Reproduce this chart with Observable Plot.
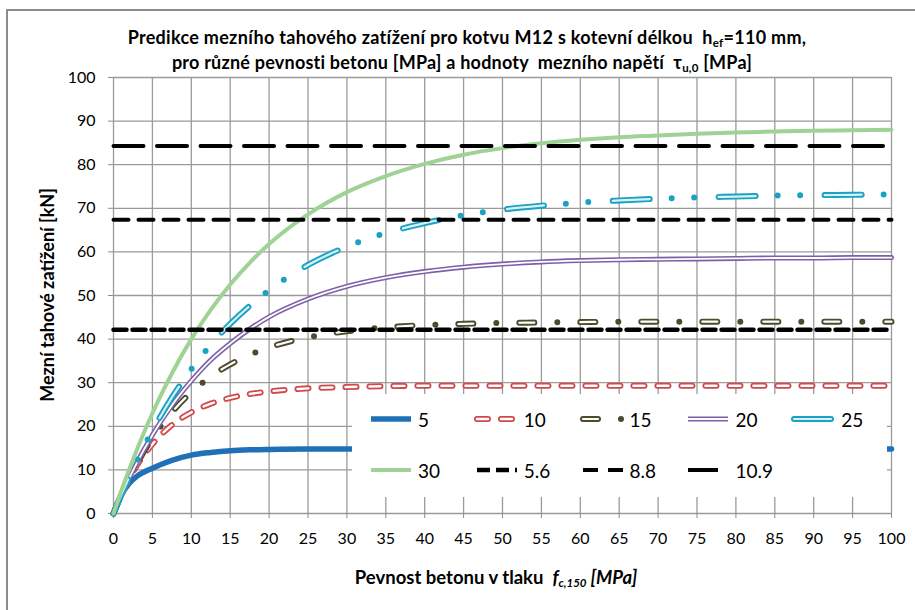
<!DOCTYPE html>
<html><head><meta charset="utf-8">
<script src="https://cdn.jsdelivr.net/npm/d3@7"></script>
<script src="https://cdn.jsdelivr.net/npm/@observablehq/plot@0.6"></script>
<style>
body{margin:0;background:#fff;font-family:Lato,"Open Sans",sans-serif;}
#wrap{position:relative;width:915px;height:610px;overflow:hidden;background:#fff;}
#frame{position:absolute;left:6px;top:9px;width:2000px;height:2000px;border-left:2px solid #8c8c8c;border-top:2px solid #8c8c8c;}
#chart{position:absolute;left:0;top:0;}
.t{position:absolute;white-space:nowrap;font-weight:bold;color:#000;font-size:18px;line-height:20px;}
.sub{font-size:11.5px;position:relative;top:3px;line-height:10px;}
#legend{position:absolute;left:352px;top:394px;width:535px;height:103px;background:#fff;}
.li{position:absolute;display:flex;align-items:center;height:22px;font-size:19px;color:#000;}
.li svg{margin-right:4px;}
</style></head><body>
<div id="wrap">
  <div id="frame"></div>
  <div id="chart"></div>
  <div class="t" style="left:467px;top:27px;transform:translateX(-50%);letter-spacing:0.3px;">Predikce mezního tahového zatížení pro kotvu M12 s kotevní délkou&nbsp; h<span class="sub">ef</span>=110 mm,</div>
  <div class="t" style="left:462px;top:52px;transform:translateX(-50%);letter-spacing:0.22px;">pro různé pevnosti betonu [MPa] a hodnoty&nbsp; mezního napětí&nbsp; τ<span class="sub">u,0</span> [MPa]</div>
  <div class="t" style="left:47px;top:295px;transform:translate(-50%,-50%) rotate(-90deg);font-size:18px;">Mezní tahové zatížení [kN]</div>
  <div class="t" style="left:496px;top:567px;transform:translateX(-50%);font-size:18.5px;">Pevnost betonu v tlaku&nbsp; <i>f</i><span class="sub"><i>c,150</i></span><i> [MPa]</i></div>
  <div id="legend"></div>
</div>
<script>
// ---- data ----
const fc = [0,1,2,3,5,7.5,10,12.5,15,17.5,20,25,30,35,40,45,50,55,60,65,70,75,80,85,90,95,100];
const n5  = [0,4.2,6.9,8.5,10.4,12.2,13.4,14.0,14.4,14.6,14.7,14.8,14.8,14.8,14.8,14.8,14.8,14.8,14.8,14.8,14.8,14.8,14.8,14.8,14.8,14.8,14.8];
const n10 = [0,4.3,7.9,11.0,15.9,20.3,23.2,25.2,26.5,27.4,28.0,28.7,29.0,29.2,29.3,29.3,29.3,29.3,29.3,29.3,29.3,29.3,29.3,29.3,29.3,29.3,29.3];
const n15 = [0,4.2,8.0,11.4,17.3,23.2,27.8,31.4,34.2,36.4,38.1,40.4,41.8,42.7,43.2,43.5,43.7,43.8,43.9,44.0,44.0,44.0,44.0,44.0,44.0,44.0,44.0];
const n20 = [0,4.1,8.0,11.6,18.0,24.8,30.4,35.2,39.0,42.3,45.1,49.2,52.1,54.1,55.5,56.5,57.2,57.7,58.0,58.2,58.3,58.4,58.5,58.6,58.6,58.7,58.7];
const n25 = [0,4.3,8.3,12.1,19.0,26.6,33.1,38.7,43.5,47.6,51.2,57.0,61.2,64.3,66.6,68.4,69.7,70.6,71.3,71.8,72.2,72.5,72.7,72.9,73.0,73.1,73.2];
const n30 = [0,5.2,10.0,14.6,23.0,32.1,40.0,46.7,52.5,57.5,61.8,68.6,73.7,77.4,80.2,82.3,83.8,84.9,85.7,86.3,86.7,87.1,87.4,87.6,87.8,87.9,88.0];
const tauLabels = ["5","10","15","20","25","30"];
const tauValues = [n5,n10,n15,n20,n25,n30];
const steelLabels = ["5.6","8.8","10.9"];
const steelN = [42.15,67.4,84.3];
const xTicks = [0,5,10,15,20,25,30,35,40,45,50,55,60,65,70,75,80,85,90,95,100];
const yTicks = [0,10,20,30,40,50,60,70,80,90,100];

// ---- styles ----
const styles = {
  "5":  [{stroke:"#1f70b6",strokeWidth:5.5}],
  "10": [{stroke:"#d2484c",strokeWidth:6,strokeDasharray:"11,13",strokeLinecap:"round"},
         {stroke:"#fff",strokeWidth:2.4,strokeDasharray:"11,13",strokeLinecap:"round"}],
  "15": [{stroke:"#4e4a2c",strokeWidth:6,strokeDasharray:"15,23,0,23",strokeLinecap:"round"},
         {stroke:"#fff",strokeWidth:2.2,strokeDasharray:"15,46",strokeLinecap:"round"}],
  "20": [{stroke:"#7d60a8",strokeWidth:5},{stroke:"#fff",strokeWidth:1.8}],
  "25": [{stroke:"#1aa2c2",strokeWidth:6,strokeDasharray:"37,22,0,22.5,0,24.5",strokeLinecap:"round"},
         {stroke:"#d8f1f7",strokeWidth:2.2,strokeDasharray:"37,69",strokeLinecap:"round"}],
  "30": [{stroke:"#9fd295",strokeWidth:4}],
  "5.6":[{stroke:"#000",strokeWidth:4.5,strokeDasharray:"13,6"}],
  "8.8":[{stroke:"#000",strokeWidth:4,strokeDasharray:"15,10"}],
  "10.9":[{stroke:"#000",strokeWidth:4,strokeDasharray:"30,13.5"}]
};

const marks = [
  Plot.gridX(xTicks,{stroke:"#9a9a9a",strokeOpacity:1,strokeWidth:1.3}),
  Plot.gridY(yTicks,{stroke:"#9a9a9a",strokeOpacity:1,strokeWidth:1.3}),
  Plot.axisX(xTicks,{tickSize:5,tickPadding:14,stroke:"#8c8c8c",label:null}),
  Plot.axisY(yTicks,{tickSize:5,tickPadding:13,stroke:"#8c8c8c",label:null})
];
tauLabels.forEach((lab,k)=>{
  const data = fc.map((x,i)=>({x, y:tauValues[k][i]}));
  styles[lab].forEach(st=>marks.push(Plot.line(data,{x:"x",y:"y",curve:"monotone-x",...st})));
});
steelLabels.forEach((lab,k)=>{
  const data = [{x:xTicks[0],y:steelN[k]},{x:xTicks[xTicks.length-1],y:steelN[k]}];
  styles[lab].forEach(st=>marks.push(Plot.line(data,{x:"x",y:"y",...st})));
});

const chart = Plot.plot({
  width:915,height:610,
  marginLeft:113,marginRight:24,marginTop:77,marginBottom:97,
  x:{domain:[0,100]},
  y:{domain:[0,100]},
  style:{fontFamily:"Lato, sans-serif",fontSize:"16px",color:"#000",background:"transparent"},
  marks
});
document.getElementById("chart").appendChild(chart);

// ---- legend (inside plot, white box) ----
const legendOrder = ["5","10","15","20","25","30","5.6","8.8","10.9"];
const leg = d3.select("#legend");
legendOrder.forEach((lab,i)=>{
  const col = i%5, row = Math.floor(i/5);
  const item = leg.append("div").attr("class","li")
    .style("left",(16+col*105.8)+"px").style("top",(14+row*51)+"px");
  const svg = item.append("svg").attr("width",46).attr("height",12);
  styles[lab].forEach(st=>{
    svg.append("line").attr("x1",3).attr("x2",43).attr("y1",6).attr("y2",6)
      .attr("stroke",st.stroke).attr("stroke-width",st.strokeWidth)
      .attr("stroke-dasharray",st.strokeDasharray||null)
      .attr("stroke-linecap",st.strokeLinecap||"butt");
  });
  item.append("span").text(lab);
});
</script>
</body></html>
